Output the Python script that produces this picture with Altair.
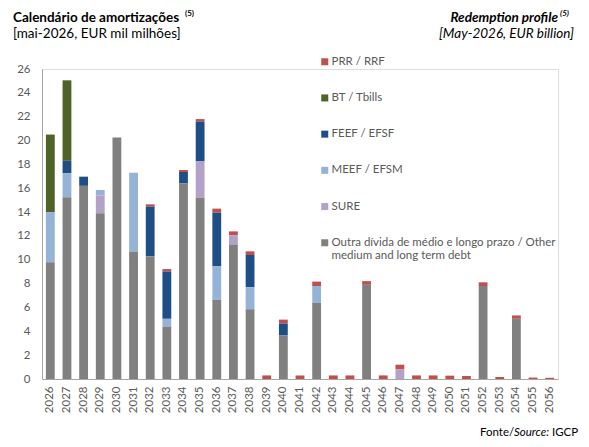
import altair as alt
import pandas as pd

years = [str(y) for y in range(2026, 2057)]

outra = [9.8, 15.25, 16.2, 13.9, 20.25, 10.7, 10.3, 4.4, 16.4, 15.2, 6.65, 11.25, 5.85, 0, 3.65, 0,
         6.4, 0, 0, 7.9, 0, 0, 0, 0, 0, 0, 7.8, 0, 5.05, 0, 0]
sure = [0, 0, 0, 1.5, 0, 0, 0, 0, 0, 3.05, 0, 0.8, 0, 0, 0, 0,
        0, 0, 0, 0, 0, 0.8, 0, 0, 0, 0, 0, 0, 0, 0, 0]
meef = [4.2, 2.0, 0, 0.45, 0, 6.6, 0, 0.65, 0, 0, 2.8, 0, 1.85, 0, 0, 0,
        1.4, 0, 0, 0, 0, 0, 0, 0, 0, 0, 0, 0, 0, 0, 0]
feef = [0, 1.05, 0.77, 0, 0, 0, 4.15, 3.97, 0.96, 3.35, 4.5, 0, 2.7, 0, 1.0, 0,
        0, 0, 0, 0, 0, 0, 0, 0, 0, 0, 0, 0, 0, 0, 0]
bt = [6.5, 6.75, 0, 0, 0, 0, 0, 0, 0, 0, 0, 0, 0, 0, 0, 0,
      0, 0, 0, 0, 0, 0, 0, 0, 0, 0, 0, 0, 0, 0, 0]
prr = [0, 0, 0, 0, 0, 0, 0.2, 0.2, 0.17, 0.2, 0.34, 0.33, 0.31, 0.3, 0.33, 0.3,
       0.37, 0.3, 0.3, 0.31, 0.3, 0.4, 0.3, 0.3, 0.28, 0.25, 0.31, 0.17, 0.28, 0.12, 0.1]

OUTRA = "Outra dívida de médio e longo prazo / Other medium and long term debt"
series_names = ["PRR / RRF", "BT / Tbills", "FEEF / EFSF", "MEEF / EFSM", "SURE", OUTRA]
series_values = [prr, bt, feef, meef, sure, outra]
series_colors = ["#C0504D", "#4F6228", "#1F4E86", "#95B3D7", "#B3A2C7", "#808080"]
stack_order = [6, 5, 4, 3, 2, 1]

rows = []
for name, vals, order in zip(series_names, series_values, stack_order):
    for yr, v in zip(years, vals):
        if v > 0:
            rows.append({"ano": yr, "serie": name, "valor": v, "ordem": order})
df = pd.DataFrame(rows)

FONT = "Lato"
GREY = "#595959"

bars = alt.Chart(df).mark_bar().encode(
    x=alt.X("ano:N", sort=years,
            scale=alt.Scale(paddingInner=0.47, paddingOuter=0.235),
            axis=alt.Axis(title=None, labelAngle=-90, labelFontSize=11.5, labelColor=GREY,
                          labelFont=FONT, ticks=False, labelPadding=7, domainColor="#A6A6A6",
                          labelBaseline="middle", labelAlign="right")),
    y=alt.Y("valor:Q", stack="zero",
            scale=alt.Scale(domain=[0, 26], nice=False),
            axis=alt.Axis(title=None, values=list(range(0, 27, 2)), grid=False, ticks=False,
                          labelFontSize=11.5, labelColor=GREY, labelFont=FONT, labelPadding=12,
                          domainColor="#A6A6A6")),
    color=alt.Color("serie:N", sort=series_names,
                    scale=alt.Scale(domain=series_names, range=series_colors),
                    legend=alt.Legend(title=None, orient="none", legendX=277, legendY=-13,
                                      symbolType="square", symbolSize=49, symbolStrokeWidth=0,
                                      labelFontSize=11.5, labelColor=GREY, labelFont=FONT,
                                      rowPadding=23.2, padding=0, labelLimit=400, labelOffset=1,
                                      labelExpr="indexof(datum.label, 'Outra') == 0 ? ['Outra dívida de médio e longo prazo / Other', 'medium and long term debt'] : datum.label")),
    order=alt.Order("ordem:Q", sort="ascending"),
)

one = pd.DataFrame({"k": [0]})

def txt(text, x, y, size=12, weight="normal", style="normal", align="left", color="#000000"):
    return alt.Chart(one).mark_text(text=text, font=FONT, fontSize=size, fontWeight=weight,
                                    fontStyle=style, align=align, baseline="alphabetic",
                                    color=color).encode(x=alt.value(x), y=alt.value(y))

# page coords -> plot coords: x - 42, y - 69
annotations = [
    txt("Calendário de amortizações", 13 - 42, 22 - 69, size=13.5, weight="bold"),
    txt("(5)", 185 - 42, 16 - 69, size=8, weight="bold"),
    txt("[mai-2026, EUR mil milhões]", 13 - 42, 38 - 69, size=13.5),
    txt("Redemption profile", 558 - 42, 22 - 69, size=13.5, weight="bold", style="italic", align="right"),
    txt("(5)", 560 - 42, 16 - 69, size=8, weight="bold", style="italic"),
    txt("[May-2026, EUR billion]", 574 - 42, 38 - 69, size=13.5, style="italic", align="right"),
    txt("Fonte/", 480 - 42, 436 - 69, size=11.5),
    txt("Source:", 514 - 42, 436 - 69, size=11.5, style="italic"),
    txt("IGCP", 552 - 42, 436 - 69, size=11.5),
]

chart = alt.layer(bars, *annotations).properties(
    width=516, height=310,
    autosize=alt.AutoSizeParams(type="none"),
    padding={"left": 34, "top": 61, "right": 23, "bottom": 60},
).configure_view(stroke=None).configure(font=FONT)

chart.save("out.html", embed_options={"renderer": "svg", "actions": False})
